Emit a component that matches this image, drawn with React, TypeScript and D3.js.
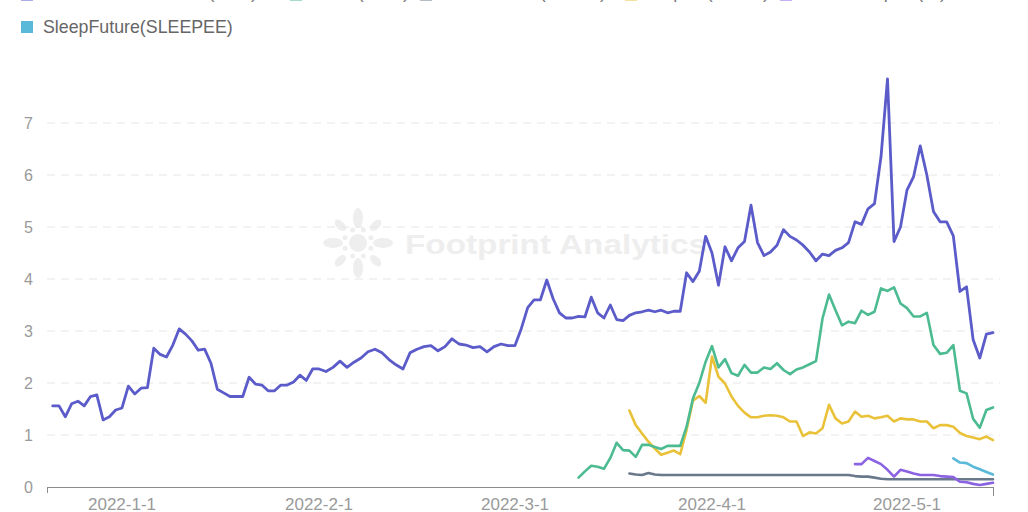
import React from "react";
import * as d3 from "d3";

// ---------- data ----------
const tickLabels = ["2022-1-1", "2022-2-1", "2022-3-1", "2022-4-1", "2022-5-1"];
const tickDates = ["2022-01-01", "2022-02-01", "2022-03-01", "2022-04-01", "2022-05-01"];
const yTicks = [0, 1, 2, 3, 4, 5, 6, 7];

// daily values, first date given by each series' start
const gstStart = "2021-12-21";
const gstValues = [
  1.56, 1.56, 1.35, 1.6, 1.65, 1.56, 1.74, 1.77, 1.29, 1.35, 1.48, 1.52,
  1.94, 1.79, 1.9, 1.91, 2.67, 2.55, 2.5, 2.73, 3.04, 2.94,
  2.81, 2.63, 2.65, 2.38, 1.88, 1.81, 1.74, 1.74, 1.74, 2.11,
  1.98, 1.96, 1.85, 1.85, 1.96, 1.96, 2.02, 2.15, 2.05, 2.27,
  2.27,
  2.22, 2.3, 2.42, 2.3, 2.4, 2.48, 2.6, 2.65, 2.58, 2.45,
  2.35, 2.27, 2.58, 2.65, 2.7, 2.72, 2.62, 2.7, 2.85, 2.75,
  2.73, 2.68, 2.7, 2.6, 2.7, 2.75, 2.72, 2.72,
  3.05, 3.45, 3.6, 3.6, 3.98, 3.62, 3.35, 3.25, 3.25, 3.28,
  3.27, 3.65, 3.35, 3.25, 3.5, 3.22, 3.2, 3.3, 3.35, 3.37,
  3.4, 3.37, 3.4, 3.35, 3.38, 3.38, 4.12, 3.95, 4.15, 4.82,
  4.5,
  3.88, 4.62, 4.35, 4.6, 4.72, 5.42, 4.7, 4.45, 4.52, 4.65,
  4.95, 4.82, 4.75, 4.65, 4.52, 4.35, 4.48, 4.45, 4.55, 4.6,
  4.7, 5.1, 5.05, 5.35, 5.45, 6.35, 7.85, 4.72, 5.0, 5.71,
  5.97, 6.56, 6.0, 5.3, 5.1, 5.1, 4.83, 3.76, 3.85, 2.83, 2.48, 2.94, 2.97,
];

const gmtStart = "2022-03-11";
const gmtValues = [
  0.18, 0.3, 0.41, 0.39, 0.35, 0.56, 0.85, 0.71, 0.7, 0.58,
  0.81, 0.81, 0.77, 0.73, 0.79, 0.79, 0.79, 1.16, 1.7, 2.0,
  2.41, 2.71,
  2.3, 2.46, 2.19, 2.14, 2.35, 2.2, 2.2, 2.3, 2.27, 2.38,
  2.25, 2.17, 2.26, 2.3, 2.36, 2.42, 3.24, 3.7, 3.4, 3.11,
  3.18, 3.15, 3.39, 3.31, 3.37, 3.82, 3.77, 3.84, 3.53, 3.44,
  3.28, 3.28, 3.35, 2.73, 2.56, 2.58, 2.73, 1.85, 1.8, 1.31, 1.14, 1.48, 1.53,
];

const yellowStart = "2022-03-19";
const yellowValues = [
  1.47, 1.19, 1.03, 0.87, 0.74, 0.62, 0.66, 0.7, 0.63, 1.1, 1.66, 1.75, 1.62, 2.51,
  2.12, 1.99, 1.74, 1.56, 1.43, 1.34, 1.34, 1.37, 1.38, 1.37,
  1.34, 1.26, 1.26, 0.98, 1.05, 1.03, 1.13, 1.58, 1.32, 1.22,
  1.26, 1.45, 1.35, 1.37, 1.32, 1.34, 1.37, 1.26, 1.32, 1.3,
  1.3, 1.26, 1.26, 1.13, 1.19, 1.19, 1.16, 1.04, 0.98, 0.95, 0.92, 0.97, 0.9,
];

const grayStart = "2022-03-19";
const grayValues = [
  0.26, 0.24, 0.23, 0.27, 0.24, 0.23, 0.23, 0.23, 0.23, 0.23, 0.23, 0.23, 0.23, 0.23,
  0.23, 0.23, 0.23, 0.23, 0.23, 0.23, 0.23, 0.23, 0.23, 0.23,
  0.23, 0.23, 0.23, 0.23, 0.23, 0.23, 0.23, 0.23, 0.23, 0.23,
  0.23, 0.21, 0.2, 0.2, 0.18, 0.16, 0.15, 0.15, 0.15, 0.15,
  0.15, 0.15, 0.15, 0.15, 0.15, 0.15, 0.15, 0.15, 0.15, 0.15, 0.15, 0.15, 0.15,
];

const violetStart = "2022-04-23";
const violetValues = [
  0.44, 0.44, 0.56, 0.5, 0.44, 0.33, 0.2, 0.33, 0.3,
  0.26, 0.23, 0.23, 0.23, 0.21, 0.2, 0.19, 0.1, 0.09, 0.06, 0.04, 0.06, 0.08,
];

const sleepStart = "2022-05-08";
const sleepValues = [0.55, 0.47, 0.46, 0.39, 0.34, 0.29, 0.24];

const legendRow1 = [
  "Green Satoshi Token(GST)",
  "STEPN(GMT)",
  "Dotmoovs(MOOV)",
  "Genopets(GENE)",
  "Genopets(KI)",
];
const legendRow2 = ["SleepFuture(SLEEPEE)"];

// ---------- styles ----------
const COLORS = {
  gst: "#5b5bc9",
  gmt: "#4cbb91",
  yellow: "#e9c23a",
  gray: "#6a788c",
  violet: "#8b62e2",
  sleep: "#5ab8d8",
};
const FONT = "'Liberation Sans', Arial, Helvetica, sans-serif";

const parse = d3.timeParse("%Y-%m-%d");

function toPoints(start: string, values: number[]) {
  const s = parse(start) as Date;
  return values.map((v, i) => ({ date: d3.timeDay.offset(s, i), value: v }));
}

const seriesList = [
  { key: "gray", color: COLORS.gray, width: 2.6, pts: toPoints(grayStart, grayValues) },
  { key: "yellow", color: COLORS.yellow, width: 2.6, pts: toPoints(yellowStart, yellowValues) },
  { key: "gmt", color: COLORS.gmt, width: 2.6, pts: toPoints(gmtStart, gmtValues) },
  { key: "gst", color: COLORS.gst, width: 2.8, pts: toPoints(gstStart, gstValues) },
  { key: "violet", color: COLORS.violet, width: 2.6, pts: toPoints(violetStart, violetValues) },
  { key: "sleep", color: COLORS.sleep, width: 2.6, pts: toPoints(sleepStart, sleepValues) },
];

export default function App() {
  const W = 1028;
  const H = 512;

  const first = parse(gstStart) as Date;
  const last = d3.timeDay.offset(first, gstValues.length - 1);
  const x = d3
    .scaleTime()
    .domain([first, ...tickDates.map((d) => parse(d) as Date), last])
    .range([52.7, 122, 319, 515, 712, 907, 993]);
  const y = d3.scaleLinear().domain([0, 8]).range([487, 71]);

  const line = d3
    .line<{ date: Date; value: number }>()
    .x((d) => x(d.date))
    .y((d) => y(d.value));

  const axisLeft = 47;
  const axisRight = 993;

  const row1Colors = [COLORS.gst, COLORS.gmt, COLORS.gray, COLORS.yellow, COLORS.violet];
  const row1Ends = [257, 409, 606, 769, 946];
  const row1Swatches = [21, 290, 420, 625, 780];

  // watermark petals
  const petals = d3.range(8).map((i) => i * 45);
  const cx0 = 358;
  const cy0 = 243;

  return (
    <svg
      width={W}
      height={H}
      style={{ position: "absolute", left: 0, top: 0, background: "#fff" }}
      fontFamily={FONT}
    >
      <rect x={0} y={0} width={W} height={H} fill="#fff" />

      {/* watermark */}
      <g fill="#eeeeee">
        <circle cx={cx0} cy={cy0} r={9} />
        {petals.map((a, i) => {
          const px = cx0 + Math.cos((a * Math.PI) / 180) * 25;
          const py = cy0 + Math.sin((a * Math.PI) / 180) * 25;
          return (
            <ellipse
              key={i}
              cx={px}
              cy={py}
              rx={i % 2 === 0 ? 10 : 7}
              ry={i % 2 === 0 ? 5 : 4}
              transform={`rotate(${a} ${px} ${py})`}
            />
          );
        })}
        {petals.map((a, i) => (
          <circle
            key={"d" + i}
            cx={cx0 + Math.cos(((a + 22.5) * Math.PI) / 180) * 14}
            cy={cy0 + Math.sin(((a + 22.5) * Math.PI) / 180) * 14}
            r={2.5}
          />
        ))}
        <text
          x={405}
          y={254}
          fontSize={27}
          fontWeight="bold"
          textLength={302}
          lengthAdjust="spacingAndGlyphs"
        >
          Footprint Analytics
        </text>
      </g>

      {/* grid */}
      {yTicks.slice(1).map((t) => (
        <line
          key={t}
          x1={axisLeft}
          x2={1000}
          y1={y(t)}
          y2={y(t)}
          stroke="#e6e6e6"
          strokeWidth={1}
          strokeDasharray="8,6"
        />
      ))}

      {/* y labels */}
      {yTicks.map((t) => (
        <text
          key={t}
          x={33}
          y={y(t)}
          dy="0.36em"
          textAnchor="end"
          fontSize={16}
          fill="#9a9a9a"
        >
          {t}
        </text>
      ))}

      {/* x axis */}
      <line x1={axisLeft} x2={axisRight} y1={487.5} y2={487.5} stroke="#8c8c8c" strokeWidth={1} />
      <line x1={axisLeft + 0.5} x2={axisLeft + 0.5} y1={487} y2={493} stroke="#8c8c8c" />
      <line x1={axisRight + 0.5} x2={axisRight + 0.5} y1={487} y2={496} stroke="#8c8c8c" />
      {tickDates.map((d, i) => (
        <text
          key={d}
          x={x(parse(d) as Date)}
          y={510}
          textAnchor="middle"
          fontSize={17}
          fill="#9a9a9a"
        >
          {tickLabels[i]}
        </text>
      ))}

      {/* series */}
      {seriesList.map((s) => (
        <path
          key={s.key}
          d={line(s.pts) || ""}
          fill="none"
          stroke={s.color}
          strokeWidth={s.width}
          strokeLinejoin="round"
          strokeLinecap="round"
        />
      ))}

      {/* legend row 1 (mostly cropped at the top) */}
      {legendRow1.map((name, i) => (
        <g key={name}>
          <rect x={row1Swatches[i]} y={-12} width={12} height={12.5} fill={row1Colors[i]} />
          <text x={row1Ends[i]} y={-2.5} textAnchor="end" fontSize={17.8} fill="#777">
            {name}
          </text>
        </g>
      ))}

      {/* legend row 2 */}
      {legendRow2.map((name) => (
        <g key={name}>
          <rect x={21} y={21} width={12} height={12} fill={COLORS.sleep} />
          <text x={43} y={27} dy="0.36em" fontSize={17.8} fill="#666">
            {name}
          </text>
        </g>
      ))}
    </svg>
  );
}
